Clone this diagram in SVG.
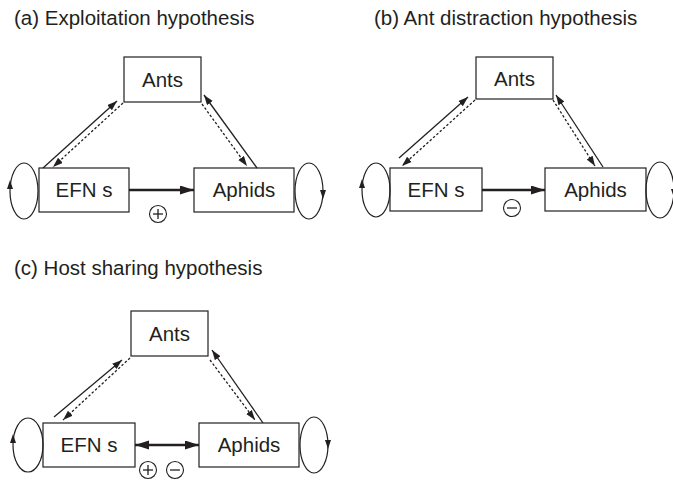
<svg xmlns="http://www.w3.org/2000/svg" width="673" height="485" viewBox="0 0 673 485">
<style>
.bg{fill:#fff}
.box{fill:#fff;stroke:#231f20;stroke-width:1.2}
.lbl{font-family:"Liberation Sans",Arial,sans-serif;font-size:20.5px;fill:#231f20;text-anchor:middle}
.ttl{font-family:"Liberation Sans",Arial,sans-serif;font-size:20.5px;fill:#231f20}
.sol{stroke:#231f20;stroke-width:1.3;fill:none;marker-end:url(#ah)}
.dsh{stroke:#231f20;stroke-width:1.3;fill:none;stroke-dasharray:2.5 2;marker-end:url(#ah)}
.thick{stroke:#231f20;stroke-width:2.6;fill:none;marker-end:url(#ahb)}
.loop{fill:none;stroke:#231f20;stroke-width:1.2}
.tri{fill:#231f20}
.sign{fill:#fff;stroke:#231f20;stroke-width:1.1}
.sg{stroke:#231f20;stroke-width:1.3}
</style>
<defs>
<marker id="ah" markerUnits="userSpaceOnUse" markerWidth="11" markerHeight="8" refX="10" refY="3.5" orient="auto"><path d="M0,0 L10,3.5 L0,7 z" fill="#231f20"/></marker>
<marker id="ahb" markerUnits="userSpaceOnUse" markerWidth="15" markerHeight="10" refX="14" refY="4.5" orient="auto-start-reverse"><path d="M0,0 L14,4.5 L0,9 z" fill="#231f20"/></marker>
</defs>
<rect class="bg" x="0" y="0" width="673" height="485"/>

<g id="titles">
<text class="ttl" x="14" y="25">(a) Exploitation hypothesis</text>
<text class="ttl" x="374" y="25">(b) Ant distraction hypothesis</text>
<text class="ttl" x="14" y="275">(c) Host sharing hypothesis</text>
</g>

<!-- Panel a -->
<g id="a-ants"><rect class="box" x="124" y="57" width="77" height="45"/><text class="lbl" x="162.5" y="87">Ants</text></g>
<g id="a-efns"><rect class="box" x="39" y="168" width="90" height="44"/><text class="lbl" x="84" y="197">EFN s</text>
<ellipse class="loop" cx="24" cy="191" rx="14" ry="28"/><polygon class="tri" points="10,180 7,189 13,189"/></g>
<g id="a-aphids"><rect class="box" x="194" y="168" width="100" height="44"/><text class="lbl" x="244" y="197">Aphids</text>
<ellipse class="loop" cx="309" cy="191" rx="14" ry="28"/><polygon class="tri" points="323,199 320,190 326,190"/></g>
<g id="a-plus"><circle class="sign" cx="158" cy="214" r="8.5"/><line class="sg" x1="153" y1="214" x2="163" y2="214"/><line class="sg" x1="158" y1="209" x2="158" y2="219"/></g>
<g id="a-connectors">
<line class="sol" x1="43" y1="168" x2="117" y2="101"/>
<line class="dsh" x1="123" y1="103" x2="53" y2="167"/>
<line class="sol" x1="257" y1="168" x2="204" y2="95"/>
<line class="dsh" x1="202" y1="104" x2="247" y2="166"/>
<line class="thick" x1="129" y1="190" x2="194" y2="190"/>
</g>

<!-- Panel b -->
<g id="b-ants"><rect class="box" x="476" y="57" width="77" height="42"/><text class="lbl" x="514.5" y="86">Ants</text></g>
<g id="b-efns"><rect class="box" x="390" y="168" width="92" height="43"/><text class="lbl" x="436" y="197">EFN s</text>
<ellipse class="loop" cx="376" cy="190" rx="14" ry="27"/><polygon class="tri" points="362,179 359,188 365,188"/></g>
<g id="b-aphids"><rect class="box" x="545" y="168" width="101" height="43"/><text class="lbl" x="595.5" y="197">Aphids</text>
<ellipse class="loop" cx="660" cy="190" rx="14" ry="28"/><polygon class="tri" points="674,198 671,189 677,189"/></g>
<g id="b-minus"><circle class="sign" cx="512" cy="208" r="8.5"/><line class="sg" x1="507" y1="208" x2="517" y2="208"/></g>
<g id="b-connectors">
<line class="sol" x1="399" y1="158" x2="468" y2="97"/>
<line class="dsh" x1="475" y1="100" x2="402" y2="166"/>
<line class="sol" x1="603" y1="167" x2="556" y2="95"/>
<line class="dsh" x1="553" y1="100" x2="595" y2="166"/>
<line class="thick" x1="482" y1="190" x2="545" y2="190"/>
</g>

<!-- Panel c -->
<g id="c-ants"><rect class="box" x="131" y="311" width="77" height="45"/><text class="lbl" x="169.5" y="341">Ants</text></g>
<g id="c-efns"><rect class="box" x="43" y="423" width="92" height="44"/><text class="lbl" x="89" y="452">EFN s</text>
<ellipse class="loop" cx="28" cy="445" rx="15" ry="27"/><polygon class="tri" points="13,434 10,443 16,443"/></g>
<g id="c-aphids"><rect class="box" x="199" y="423" width="100" height="44"/><text class="lbl" x="249" y="452">Aphids</text>
<ellipse class="loop" cx="314" cy="445" rx="14" ry="28"/><polygon class="tri" points="328,449 325,440 331,440"/></g>
<g id="c-signs"><circle class="sign" cx="148" cy="470" r="8.5"/><line class="sg" x1="143" y1="470" x2="153" y2="470"/><line class="sg" x1="148" y1="465" x2="148" y2="475"/>
<circle class="sign" cx="175" cy="470" r="8.5"/><line class="sg" x1="170" y1="470" x2="180" y2="470"/></g>
<g id="c-connectors">
<line class="sol" x1="54" y1="417" x2="122" y2="360"/>
<line class="dsh" x1="130" y1="358" x2="63" y2="420"/>
<line class="sol" x1="263" y1="423" x2="212" y2="350"/>
<line class="dsh" x1="210" y1="360" x2="255" y2="420"/>
<line class="thick" x1="135" y1="445" x2="199" y2="445" marker-start="url(#ahb)"/>
</g>
</svg>
